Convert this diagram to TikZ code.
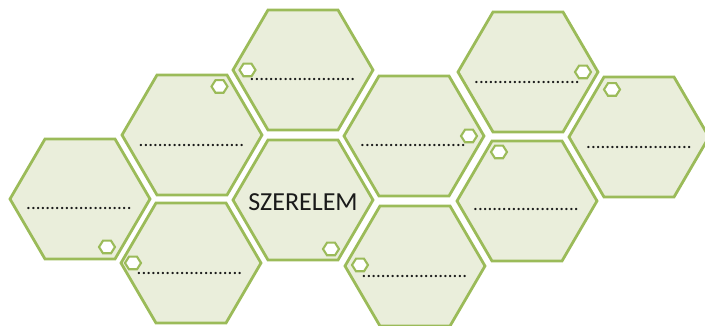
\documentclass[tikz,border=0pt]{standalone}
\usepackage{fontspec}
\setmainfont{Carlito}
\definecolor{hexline}{HTML}{9BBB59}
\definecolor{hexfill}{HTML}{EAEEDB}
\definecolor{txtcol}{HTML}{1A1A1A}
\newcommand\bhex[2]{\path[bighex] (#1-70,#2) -- (#1-35,#2-60) -- (#1+35,#2-60) -- (#1+70,#2) -- (#1+35,#2+60) -- (#1-35,#2+60) -- cycle;}
\newcommand\shex[2]{\path[smallhex] (#1-8,#2) -- (#1-4,#2-6.3) -- (#1+4,#2-6.3) -- (#1+8,#2) -- (#1+4,#2+6.3) -- (#1-4,#2+6.3) -- cycle;}
\newcommand\dotrow{......................}
\begin{document}
\begin{tikzpicture}[x=1pt,y=-1pt,
  bighex/.style={draw=hexline, fill=hexfill, line width=2.8pt},
  smallhex/.style={draw=hexline, fill=white, line width=2.1pt},
  dotline/.style={font=\fontsize{19}{19}\selectfont, anchor=base, inner sep=0pt, text=txtcol},
  maintext/.style={font=\fontsize{26}{26}\selectfont, anchor=base, inner sep=0pt, text=txtcol}]
\useasboundingbox (0,0) rectangle (705,326);
% big hexagons
\bhex{80}{199}
\bhex{192}{135}
\bhex{191}{263}
\bhex{303}{70}
\bhex{303}{200}
\bhex{414}{136}
\bhex{415}{266}
\bhex{528}{72}
\bhex{527}{201}
\bhex{639}{137}
% small hexagons
\shex{107}{247}
\shex{219.5}{86.5}
\shex{133}{263}
\shex{247.5}{70}
\shex{331}{249}
\shex{469}{136}
\shex{360}{265}
\shex{583}{72}
\shex{499}{152}
\shex{612}{89.5}
% texts
\node[dotline] (t1) at (79,210) {\dotrow};
\node[dotline] (t2) at (191.5,147) {\dotrow};
\node[dotline] (t3) at (189.5,275) {\dotrow};
\node[dotline] (t4) at (302.5,81) {\dotrow};
\node[maintext] (t5) at (303,211) {SZERELEM};
\node[dotline] (t6) at (413,147) {\dotrow};
\node[dotline] (t7) at (414.5,277) {\dotrow};
\node[dotline] (t8) at (527,84) {\dotrow};
\node[dotline] (t9) at (526,211) {\dotrow};
\node[dotline] (t10) at (639,149) {\dotrow};
\end{tikzpicture}
\end{document}
